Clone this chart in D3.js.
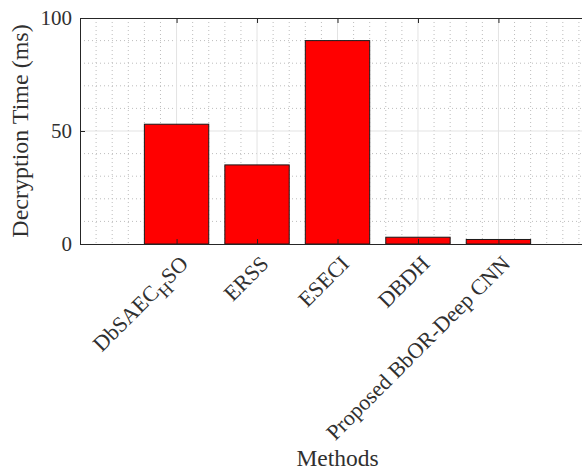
<!DOCTYPE html>
<html>
<head>
<meta charset="utf-8">
<script src="https://cdn.jsdelivr.net/npm/d3@7"></script>
<style>
  html, body { margin: 0; padding: 0; background: #fff; }
  svg text { font-family: "Liberation Serif", "Times New Roman", serif; fill: #303030; }
</style>
</head>
<body>
<svg id="chart" width="582" height="474"></svg>
<script>
// Decryption time per method (ms)
const methods = ["DbSAEC_H SO", "ERSS", "ESECI", "DBDH", "Proposed BbOR-Deep CNN"];
const decryptionTime = [53, 35, 90, 3, 2];
const yTicks = [0, 50, 100];

const svg = d3.select("#chart");
const W = 582, H = 474;
const plot = { left: 80, top: 18, bottom: 244, right: 595 };

// categories sit at 1..n on a numeric axis
const x = d3.scaleLinear().domain([-0.2, 6.2]).range([plot.left, plot.right]);
const y = d3.scaleLinear().domain([0, 100]).range([plot.bottom, plot.top]);
const barW = x(0.8) - x(0);

const g = svg.append("g");

// minor grid (dotted)
const minorX = d3.range(0, 31).map(i => i * 0.2).filter(v => Math.abs(v - Math.round(v)) > 1e-6 || v < 1 || v > 5);
g.append("g").selectAll("line").data(minorX).join("line")
  .attr("x1", d => x(d)).attr("x2", d => x(d))
  .attr("y1", plot.top).attr("y2", plot.bottom)
  .attr("stroke", "#bdbdbd").attr("stroke-width", 1)
  .attr("stroke-dasharray", "1,3");
const minorY = d3.range(10, 100, 10).filter(v => v !== 50);
g.append("g").selectAll("line").data(minorY).join("line")
  .attr("x1", plot.left).attr("x2", W)
  .attr("y1", d => y(d)).attr("y2", d => y(d))
  .attr("stroke", "#bdbdbd").attr("stroke-width", 1)
  .attr("stroke-dasharray", "1,3");

// major grid (solid, light)
g.append("g").selectAll("line").data(d3.range(1, methods.length + 1)).join("line")
  .attr("x1", d => x(d)).attr("x2", d => x(d))
  .attr("y1", plot.top).attr("y2", plot.bottom)
  .attr("stroke", "#e3e3e3").attr("stroke-width", 1);
g.append("g").selectAll("line").data(yTicks.filter(v => v > 0 && v < 100)).join("line")
  .attr("x1", plot.left).attr("x2", W)
  .attr("y1", d => y(d)).attr("y2", d => y(d))
  .attr("stroke", "#e3e3e3").attr("stroke-width", 1);

// bars
g.append("g").selectAll("rect").data(decryptionTime).join("rect")
  .attr("x", (d, i) => x(i + 1) - barW / 2)
  .attr("y", d => y(d))
  .attr("width", barW)
  .attr("height", d => y(0) - y(d))
  .attr("fill", "#ff0000")
  .attr("stroke", "#1a1a1a")
  .attr("stroke-width", 1);

// axes (box with inward ticks)
const axisColor = "#262626";
const bottomAxis = d3.axisBottom(x).tickValues(d3.range(1, methods.length + 1)).tickSizeInner(-5).tickSizeOuter(0).tickFormat("");
const topAxis = d3.axisTop(x).tickValues(d3.range(1, methods.length + 1)).tickSizeInner(-5).tickSizeOuter(0).tickFormat("");
const leftAxis = d3.axisLeft(y).tickValues(yTicks).tickSizeInner(-5).tickSizeOuter(0).tickPadding(8).tickFormat(d3.format("d"));

const gb = svg.append("g").attr("transform", `translate(0,${plot.bottom})`).call(bottomAxis);
const gt = svg.append("g").attr("transform", `translate(0,${plot.top})`).call(topAxis);
const gl = svg.append("g").attr("transform", `translate(${plot.left},0)`).call(leftAxis);
[gb, gt, gl].forEach(a => {
  a.select(".domain").attr("stroke", axisColor).attr("stroke-width", 1);
  a.selectAll(".tick line").attr("stroke", axisColor);
});
gl.selectAll(".tick text")
  .attr("font-size", 21)
  .style("font-family", '"Liberation Serif", serif')
  .attr("fill", "#303030");

// category labels, rotated 45°
const lab = svg.append("g");
methods.forEach((m, i) => {
  const t = lab.append("text")
    .attr("transform", `translate(${x(i + 1) + 13},${plot.bottom + 21}) rotate(-45)`)
    .attr("text-anchor", "end")
    .attr("font-size", 22);
  const parts = m.split("_");
  if (parts.length > 1) {
    const [base, rest] = parts;
    const sub = rest.split(" ");
    t.append("tspan").text(base);
    t.append("tspan").attr("font-size", 18).attr("dy", 7).text(sub[0]);
    t.append("tspan").attr("dy", -7).text(sub.slice(1).join(" "));
  } else {
    t.text(m);
  }
});

// axis titles
svg.append("text")
  .attr("x", x(3)).attr("y", 466)
  .attr("text-anchor", "middle")
  .attr("font-size", 23.5)
  .text("Methods");
svg.append("text")
  .attr("transform", `translate(28,${(plot.top + plot.bottom) / 2}) rotate(-90)`)
  .attr("text-anchor", "middle")
  .attr("font-size", 24)
  .text("Decryption Time (ms)");
</script>
</body>
</html>
